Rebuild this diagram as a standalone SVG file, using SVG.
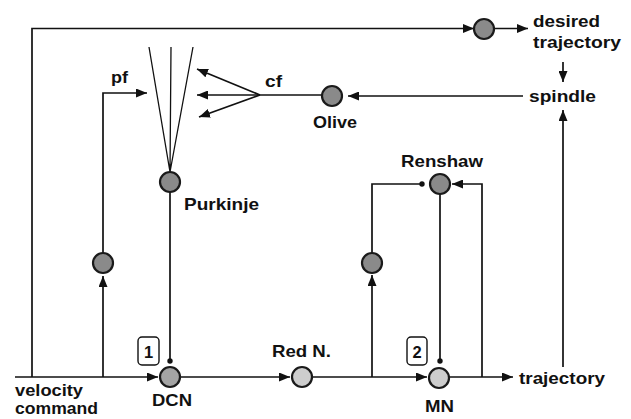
<svg xmlns="http://www.w3.org/2000/svg" width="631" height="419" viewBox="0 0 631 419">
<defs>
<marker id="ah" markerUnits="userSpaceOnUse" markerWidth="12" markerHeight="9" refX="11" refY="4.5" orient="auto">
<path d="M0,0 L11,4.5 L0,9 z" fill="#111"/>
</marker>
<style>
.ln{fill:none;stroke:#111;stroke-width:1.7}
.thin{fill:none;stroke:#111;stroke-width:1.3}
.arr{fill:none;stroke:#111;stroke-width:1.7;marker-end:url(#ah)}
.nd{stroke:#1a1a1a;stroke-width:2.2}
.dark{fill:#8a8a8a}
.mid{fill:#a4a4a4}
.light{fill:#cdcdcd}
.dot{fill:#111}
.t{font-family:"Liberation Sans",Arial,Helvetica,sans-serif;font-weight:bold;font-size:16.5px;fill:#111}
.box{fill:#fff;stroke:#111;stroke-width:1.4}
</style>
</defs>
<rect width="631" height="419" fill="#fff"/>
<g id="connectors">
<path class="arr" d="M15,377 H158"/>
<path class="arr" d="M32,377 V28.5 H474"/>
<path class="arr" d="M494,28.5 H528"/>
<path class="arr" d="M103,377 V276"/>
<path class="arr" d="M103,253 V93 H147"/>
<path class="thin" d="M149,47 L170,172 L171,47 M170,172 L193,47"/>
<path class="ln" d="M170,192 V361"/>
<circle class="dot" cx="170" cy="361" r="2.7"/>
<path class="arr" d="M260,95 L197,69"/>
<path class="arr" d="M260,95 L197,95"/>
<path class="arr" d="M260,95 L199,117"/>
<path class="ln" d="M260,95 H322"/>
<path class="arr" d="M523,96 H348"/>
<path class="arr" d="M563,62 V82"/>
<path class="arr" d="M563,367 V110"/>
<path class="arr" d="M180,377 H290"/>
<path class="arr" d="M312,377 H427"/>
<path class="arr" d="M449,377 H513"/>
<path class="arr" d="M372,377 V275"/>
<path class="ln" d="M372,253 V184 H422"/>
<circle class="dot" cx="422" cy="184" r="2.7"/>
<path class="arr" d="M482,377 V184 H452"/>
<path class="ln" d="M440,194 V361"/>
<circle class="dot" cx="440" cy="361" r="2.7"/>
</g>
<g id="node-desired-sum"><circle class="nd dark" cx="484" cy="29" r="10"/></g>
<g id="node-desired"><text class="t" x="533" y="27" textLength="67" lengthAdjust="spacingAndGlyphs">desired</text><text class="t" x="533" y="48" textLength="88" lengthAdjust="spacingAndGlyphs">trajectory</text></g>
<g id="node-spindle"><text class="t" x="529" y="102" textLength="67" lengthAdjust="spacingAndGlyphs">spindle</text></g>
<g id="node-olive"><circle class="nd dark" cx="332" cy="96" r="10"/><text class="t" x="313" y="128" textLength="44" lengthAdjust="spacingAndGlyphs">Olive</text></g>
<g id="node-cf"><text class="t" x="265" y="87" textLength="17" lengthAdjust="spacingAndGlyphs">cf</text></g>
<g id="node-pf"><text class="t" x="111" y="83" textLength="17" lengthAdjust="spacingAndGlyphs">pf</text></g>
<g id="node-purkinje"><circle class="nd dark" cx="170" cy="182" r="10"/><text class="t" x="184" y="210" textLength="75" lengthAdjust="spacingAndGlyphs">Purkinje</text></g>
<g id="node-pf-cell"><circle class="nd dark" cx="103" cy="263" r="10"/></g>
<g id="node-velocity"><text class="t" x="15" y="396" textLength="68" lengthAdjust="spacingAndGlyphs">velocity</text><text class="t" x="15" y="414" textLength="83" lengthAdjust="spacingAndGlyphs">command</text></g>
<g id="node-dcn"><circle class="nd mid" cx="170" cy="377" r="10"/><text class="t" x="152" y="406" textLength="40" lengthAdjust="spacingAndGlyphs">DCN</text>
<rect class="box" x="138" y="337" width="21" height="28" rx="4"/><text class="t" x="148.5" y="358" text-anchor="middle" font-size="17">1</text></g>
<g id="node-red"><circle class="nd light" cx="302" cy="377" r="10"/><text class="t" x="272" y="357" textLength="59" lengthAdjust="spacingAndGlyphs">Red N.</text></g>
<g id="node-mn"><circle class="nd light" cx="439" cy="378" r="10"/><text class="t" x="425" y="412" textLength="29" lengthAdjust="spacingAndGlyphs">MN</text>
<rect class="box" x="407" y="337" width="20" height="28" rx="4"/><text class="t" x="417" y="358" text-anchor="middle" font-size="17">2</text></g>
<g id="node-renshaw-in"><circle class="nd dark" cx="372" cy="263" r="10"/></g>
<g id="node-renshaw"><circle class="nd dark" cx="440" cy="184" r="10"/><text class="t" x="401" y="167" textLength="82" lengthAdjust="spacingAndGlyphs">Renshaw</text></g>
<g id="node-trajectory"><text class="t" x="519" y="384" textLength="86" lengthAdjust="spacingAndGlyphs">trajectory</text></g>
</svg>
